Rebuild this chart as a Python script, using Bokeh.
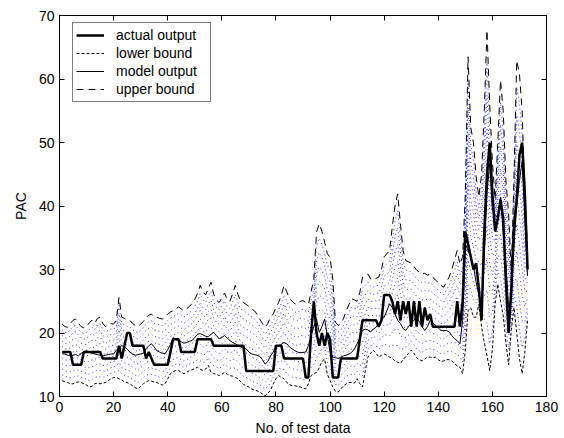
import numpy as np
from bokeh.plotting import figure
from bokeh.models import (Range1d, FixedTicker, LinearAxis, CustomJSTickFormatter,
                          Legend, LegendItem)
from bokeh.embed import file_html
from bokeh.resources import INLINE

x_index = list(range(1, 174))

actual_output = [
    17, 17, 17, 17, 15, 15, 15, 15, 17, 17,      # 1-10
    17, 17, 17, 17, 17, 16, 16, 16, 16, 16,      # 11-20
    16, 18, 16, 18, 20, 20, 18, 18, 18, 18,      # 21-30
    18, 16, 17, 16, 15, 15, 15, 15, 15, 15,      # 31-40
    17, 19, 19, 19, 17, 17, 17, 17, 17, 17,      # 41-50
    19, 19, 19, 19, 19, 19, 18, 18, 18, 18,      # 51-60
    18, 18, 18, 18, 18, 18, 18, 18, 14, 14,      # 61-70
    14, 14, 14, 14, 14, 14, 14, 14, 14, 18,      # 71-80
    18, 18, 16, 16, 16, 16, 16, 16, 16, 16,      # 81-90
    13, 13, 20, 25, 20, 18, 20, 18, 20, 19,      # 91-100
    13, 13, 13, 16, 16, 16, 16, 16, 16, 16,      # 101-110
    19, 22, 22, 22, 22, 22, 22, 21, 22, 26,      # 111-120
    26, 26, 25, 23, 25, 22, 25, 23, 25, 21,      # 121-130
    25, 21, 25, 21, 24, 22, 23, 21, 21, 21,      # 131-140
    21, 21, 21, 21, 21, 21, 25, 21, 25, 36,      # 141-150
    34, 32, 30, 31, 27, 22, 36, 45, 50, 42,      # 151-160
    36, 38, 41, 38, 28, 20, 27, 37, 41, 48,      # 161-170
    50, 42, 30,                                  # 171-173
]

model_output = [
    16.7, 16.7, 16.5, 16.4, 16.5, 16.6, 16.4, 16.8, 17.0, 17.2,
    17.0, 16.8, 16.7, 16.6, 16.5, 16.4, 16.5, 16.6, 16.7, 16.7,
    17.3, 17.6, 18.0, 17.8, 17.5, 17.0, 16.7, 16.5, 16.6, 16.7,
    16.8, 17.5, 18.0, 18.3, 17.8, 17.2, 17.0, 16.8, 16.7, 17.4,
    18.2, 19.3, 19.0, 18.8, 18.6, 18.4, 18.5, 18.7, 18.8, 19.3,
    19.8, 19.9, 19.7, 19.5, 19.4, 19.8, 20.1, 19.6, 19.1, 19.3,
    19.6, 19.2, 18.8, 18.5, 18.3, 18.0, 17.8, 17.6, 17.5, 17.0,
    16.7, 16.6, 16.5, 16.3, 15.8, 15.1, 15.5, 16.4, 17.0, 18.0,
    18.0, 18.2, 18.5, 18.3, 17.8, 17.5, 17.2, 17.0, 16.9, 16.95,
    17.0, 18.0, 19.6, 21.0, 22.2, 20.1, 21.0, 22.2, 19.5, 17.0,
    16.2, 16.1, 16.0, 16.2, 16.4, 16.5, 16.7, 16.95, 17.5, 18.3,
    19.2, 20.4, 20.6, 20.5, 20.2, 20.6, 20.9, 21.5, 22.0, 22.5,
    23.5, 24.6, 24.0, 23.0, 22.0, 21.5, 20.7, 20.4, 21.0, 21.5,
    22.0, 22.5, 21.8, 21.0, 20.4, 21.0, 22.0, 21.6, 21.2, 20.8,
    20.4, 20.4, 20.4, 20.2, 19.6, 19.1, 18.8, 18.3, 22.0, 34.0,
    33.0, 32.0, 30.5, 28.0, 26.0, 23.6, 32.0, 42.0, 46.7, 39.3,
    38.5, 38.2, 41.4, 36.0, 31.0, 24.0, 25.5, 34.0, 40.0, 44.0,
    47.0, 38.0, 29.0,
]

upper_bound = [
    21.4, 21.0, 20.9, 21.5, 22.0, 22.2, 21.5, 21.0, 20.8, 21.0,
    21.6, 22.0, 21.5, 22.3, 22.5, 21.5, 21.0, 21.3, 21.5, 21.4,
    22.0, 25.6, 22.5, 22.3, 22.0, 22.0, 21.5, 21.2, 21.0, 21.4,
    21.8, 22.5, 22.8, 23.0, 22.5, 22.5, 22.3, 22.2, 22.5, 23.0,
    23.3, 23.5, 23.8, 24.1, 23.8, 23.5, 23.8, 24.2, 24.6, 25.3,
    26.2, 27.5, 26.5, 26.0, 27.0, 28.0, 26.1, 25.2, 24.8, 25.5,
    26.3, 25.3, 25.0, 26.2, 27.5, 26.0, 25.0, 24.8, 24.5, 24.2,
    23.8, 23.5, 23.0, 22.2, 21.5, 20.9, 21.5, 22.5, 23.0, 24.0,
    24.8, 26.0, 27.5, 26.5, 25.4, 25.0, 24.6, 24.5, 25.0, 25.1,
    24.8, 24.5, 26.5, 28.5, 35.9, 37.2, 36.0, 34.3, 32.5, 31.9,
    28.5, 21.7, 21.2, 21.5, 22.3, 23.5, 24.5, 25.4, 25.2, 25.0,
    26.4, 28.8, 29.0, 29.3, 28.5, 28.3, 28.6, 28.8, 30.0, 32.0,
    32.5, 33.0, 36.7, 40.0, 41.9, 37.2, 33.0, 31.4, 31.2, 31.0,
    30.5, 29.9, 29.6, 29.3, 29.4, 29.1, 29.3, 28.8, 28.3, 28.0,
    27.5, 27.2, 28.0, 28.8, 30.0, 31.5, 33.0, 30.8, 32.0, 42.0,
    63.5, 52.4, 50.0, 44.6, 41.4, 45.0, 55.0, 67.7, 56.0, 47.0,
    41.0, 50.0, 59.8, 55.0, 44.0, 38.8, 29.3, 45.0, 62.9, 60.8,
    55.0, 40.9, 33.5,
]

lower_bound = [
    12.5, 12.3, 12.2, 12.0, 12.0, 12.2, 12.3, 12.2, 12.0, 11.8,
    11.5, 11.6, 12.0, 12.1, 12.0, 12.1, 12.2, 12.5, 12.8, 13.0,
    13.0, 12.8, 12.6, 12.3, 12.2, 12.0, 11.7, 11.4, 11.2, 11.6,
    12.0, 12.3, 12.5, 12.4, 12.3, 12.2, 12.0, 11.8, 12.0, 12.8,
    13.6, 13.9, 14.1, 14.1, 13.8, 13.6, 13.8, 14.1, 14.2, 14.4,
    14.6, 14.3, 14.1, 14.3, 14.9, 13.8, 13.6, 13.5, 13.3, 13.5,
    13.8, 13.5, 13.3, 13.2, 13.0, 12.8, 12.3, 11.9, 11.7, 11.5,
    11.2, 11.0, 10.9, 10.7, 10.4, 10.1, 10.5, 11.0, 12.0, 12.8,
    13.3, 13.0, 12.8, 12.2, 11.9, 11.7, 11.7, 11.6, 11.5, 11.3,
    11.2, 12.0, 13.3, 13.6, 13.8, 14.5, 15.5, 15.9, 13.5, 12.5,
    11.5, 10.8, 10.7, 11.2, 11.7, 12.0, 12.2, 12.2, 12.1, 12.8,
    12.0, 11.5, 14.0, 16.2, 16.8, 17.3, 16.8, 16.2, 16.5, 16.7,
    16.5, 16.2, 16.0, 15.6, 15.4, 15.2, 15.8, 16.3, 16.8, 17.3,
    16.8, 16.1, 15.8, 15.6, 15.9, 16.2, 16.2, 16.1, 16.2, 15.8,
    15.5, 15.6, 15.8, 15.8, 15.6, 15.2, 14.8, 14.6, 13.6, 17.3,
    23.5, 24.0, 22.5, 22.5, 24.5, 21.0, 18.5, 16.5, 14.1, 17.3,
    24.5, 27.7, 25.0, 22.8, 18.5, 15.0, 20.5, 24.0, 20.0, 16.0,
    13.6, 17.0, 22.0,
]

x_ticks = [0, 20, 40, 60, 80, 100, 120, 140, 160, 180]
y_ticks = [10, 20, 30, 40, 50, 60, 70]

FONT = "Liberation Sans"

p = figure(width=564, height=438, output_backend="svg", toolbar_location=None,
           x_range=Range1d(0, 180), y_range=Range1d(10, 70),
           min_border_left=59, min_border_right=18, min_border_top=15,
           min_border_bottom=42)
p.background_fill_color = "white"
p.border_fill_color = "white"
p.outline_line_color = "black"
p.outline_line_width = 1
p.xgrid.visible = False
p.ygrid.visible = False

# band of blue dotted lines between the bounds
lo = np.array(lower_bound)
hi = np.array(upper_bound)
for k in range(1, 10):
    p.line(x_index, lo + (hi - lo) * k / 10.0, line_color="#0000ff",
           line_width=1, line_dash="1 3", line_alpha=0.8)

r_upper = p.line(x_index, upper_bound, line_color="black", line_width=1,
                 line_dash="7 5")
r_lower = p.line(x_index, lower_bound, line_color="black", line_width=1,
                 line_dash="3 2")
r_model = p.line(x_index, model_output, line_color="black", line_width=1)
r_actual = p.line(x_index, actual_output, line_color="black", line_width=2.5)

def style_axis(ax):
    ax.axis_line_color = "black"
    ax.major_tick_in = 5
    ax.major_tick_out = 0
    ax.minor_tick_line_color = None
    ax.major_tick_line_color = "black"
    ax.major_label_text_font = FONT
    ax.major_label_text_font_size = "14px"
    ax.major_label_text_color = "black"
    ax.axis_label_text_font = FONT
    ax.axis_label_text_font_size = "14px"
    ax.axis_label_text_font_style = "normal"
    ax.axis_label_text_color = "black"

for ax in p.xaxis:
    style_axis(ax)
    ax.ticker = FixedTicker(ticks=x_ticks)
    ax.major_label_standoff = 5
    ax.axis_label_standoff = 5
    ax.axis_label = "No. of test data"
for ax in p.yaxis:
    style_axis(ax)
    ax.ticker = FixedTicker(ticks=y_ticks)
    ax.major_label_standoff = 5
    ax.axis_label_standoff = 7
    ax.axis_label = "PAC"

blank = CustomJSTickFormatter(code="return ''")
top_axis = LinearAxis(ticker=FixedTicker(ticks=x_ticks), formatter=blank,
                      major_tick_in=5, major_tick_out=0, minor_tick_line_color=None,
                      axis_line_color="black", major_label_standoff=0)
right_axis = LinearAxis(ticker=FixedTicker(ticks=y_ticks), formatter=blank,
                        major_tick_in=5, major_tick_out=0, minor_tick_line_color=None,
                        axis_line_color="black", major_label_standoff=0)
p.add_layout(top_axis, "above")
p.add_layout(right_axis, "right")

legend = Legend(items=[
    LegendItem(label="actual output", renderers=[r_actual]),
    LegendItem(label="lower bound", renderers=[r_lower]),
    LegendItem(label="model output", renderers=[r_model]),
    LegendItem(label="upper bound", renderers=[r_upper]),
], location=(13, 294))
legend.margin = 0
legend.padding = 3
legend.spacing = 0
legend.label_height = 18
legend.glyph_height = 18
legend.glyph_width = 28
legend.label_standoff = 12
legend.label_width = 91
legend.label_text_font = FONT
legend.label_text_font_size = "14px"
legend.label_text_color = "black"
legend.border_line_color = "black"
legend.border_line_width = 1
legend.background_fill_color = "white"
legend.background_fill_alpha = 1
p.add_layout(legend)

open("out.html", "w").write(file_html(p, INLINE))
